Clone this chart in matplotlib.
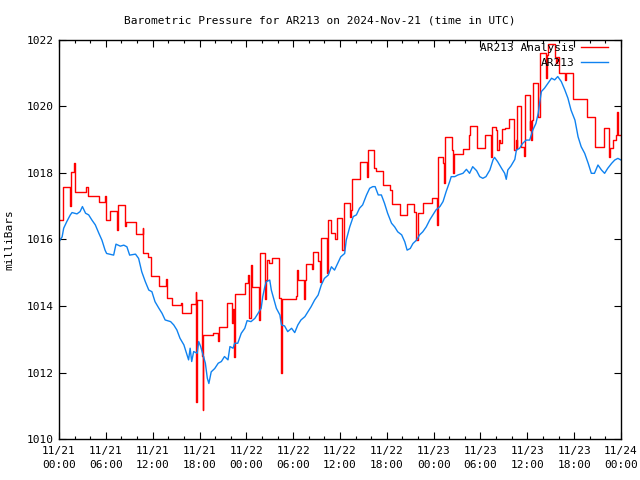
import matplotlib
matplotlib.use('Agg')
import matplotlib.pyplot as plt
import matplotlib.dates as mdates
import pandas as pd

# DATA (hours after 2024-11-21 00:00 UTC, pressure in mb)

start = pd.Timestamp('2024-11-21 00:00')

obs_hours = [0.0, 0.4, 0.6, 1.0, 1.45, 1.67, 2.3, 2.7, 3.0, 3.4, 3.8, 4.2, 4.65,
             5.1, 5.5, 5.9, 6.1, 7.0, 7.3, 7.85, 8.3, 8.7, 9.05, 9.8, 10.2, 10.6,
             11.06, 11.5, 11.9, 12.3, 12.8, 13.2, 13.6, 14.3, 14.7, 15.1, 15.5,
             16.0, 16.4, 16.6, 16.8, 17.0, 17.25, 17.7, 17.9, 18.15, 18.45, 18.75,
             19.0, 19.2, 19.5, 19.95, 20.4, 20.8, 21.2, 21.65, 21.9, 22.3, 22.5,
             22.9, 23.35, 23.8, 24.1, 24.6, 25.1, 25.5, 25.9, 26.1, 26.35, 26.55,
             27.0, 27.2, 27.55, 27.85, 28.3, 28.5, 28.9, 29.3, 29.8, 30.2, 30.6,
             31.0, 31.5, 31.9, 32.3, 32.75, 33.2, 33.6, 34.0, 34.5, 34.9, 35.3,
             35.7, 36.1, 36.6, 36.8, 37.25, 37.7, 38.1, 38.5, 38.9, 39.4, 39.8,
             40.2, 40.5, 40.9, 41.3, 41.7, 42.1, 42.6, 43.0, 43.4, 43.9, 44.3,
             44.6, 45.0, 45.35, 45.8, 46.2, 46.6, 47.05, 47.5, 47.9, 48.3, 48.8,
             49.2, 49.6, 50.05, 50.25, 50.7, 51.1, 51.75, 52.2, 52.6, 53.0, 53.5,
             53.9, 54.3, 54.7, 55.2, 55.6, 55.8, 56.2, 56.7, 57.1, 57.3, 57.5,
             57.9, 58.4, 58.6, 59.0, 59.4, 59.85, 60.3, 60.7, 61.1, 61.4, 61.6,
             61.8, 62.2, 62.65, 63.1, 63.5, 63.9, 64.35, 64.8, 65.2, 65.6, 66.1,
             66.5, 66.9, 67.35, 67.8, 68.2, 68.6, 69.05, 69.5, 69.9, 70.3, 70.8,
             71.2, 71.6, 72.0]
obs_mb = [1015.93, 1016.08, 1016.34, 1016.54, 1016.74, 1016.81, 1016.77, 1016.84,
          1016.99, 1016.79, 1016.74, 1016.59, 1016.44, 1016.19, 1015.98, 1015.68,
          1015.58, 1015.53, 1015.86, 1015.80, 1015.83, 1015.78, 1015.53, 1015.56,
          1015.43, 1015.03, 1014.73, 1014.48, 1014.43, 1014.13, 1013.93, 1013.78,
          1013.58, 1013.53, 1013.43, 1013.28, 1013.03, 1012.83, 1012.53, 1012.38,
          1012.73, 1012.33, 1012.63, 1012.58, 1012.93, 1012.78, 1012.53, 1012.28,
          1011.83, 1011.67, 1012.02, 1012.12, 1012.28, 1012.33, 1012.48, 1012.38,
          1012.78, 1012.73, 1012.88, 1012.88, 1013.18, 1013.33, 1013.56, 1013.53,
          1013.63, 1013.78, 1013.93, 1014.28, 1014.56, 1014.73, 1014.78, 1014.48,
          1014.18, 1013.93, 1013.73, 1013.43, 1013.40, 1013.23, 1013.33, 1013.20,
          1013.43, 1013.58, 1013.68, 1013.83, 1013.98, 1014.18, 1014.33, 1014.63,
          1014.83, 1014.93, 1015.18, 1015.08, 1015.28, 1015.48, 1015.58, 1015.98,
          1016.38, 1016.69, 1016.74, 1016.94, 1017.04, 1017.34, 1017.54, 1017.59,
          1017.59, 1017.34, 1017.34, 1017.09, 1016.79, 1016.49, 1016.38, 1016.23,
          1016.14, 1015.93, 1015.68, 1015.73, 1015.88, 1015.98, 1016.14, 1016.23,
          1016.38, 1016.59, 1016.74, 1016.89, 1016.99, 1017.14, 1017.44, 1017.74,
          1017.89, 1017.89, 1017.94, 1017.99, 1018.11, 1017.99, 1018.19, 1018.07,
          1017.89, 1017.84, 1017.89, 1018.09, 1018.39, 1018.47, 1018.34, 1018.14,
          1017.99, 1017.81, 1018.09, 1018.21, 1018.41, 1018.69, 1018.74, 1018.89,
          1018.99, 1018.99, 1019.29, 1019.49, 1019.80, 1020.14, 1020.45, 1020.55,
          1020.70, 1020.85, 1020.80, 1020.90, 1020.75, 1020.50, 1020.25, 1019.89,
          1019.59, 1019.09, 1018.79, 1018.59, 1018.29, 1017.99, 1017.99, 1018.24,
          1018.09, 1017.99, 1018.14, 1018.29, 1018.39, 1018.44, 1018.39]

ana_hours = [0.0, 0.5, 1.37, 1.5, 1.9, 2.05, 3.5, 3.7, 5.1, 5.95, 6.05, 6.5, 7.45,
             7.6, 8.4, 8.5, 8.6, 9.9, 10.7, 10.8, 11.4, 11.8, 12.8, 13.7, 13.85,
             14.5, 15.6, 15.7, 16.9, 17.5, 17.6, 17.7, 18.35, 18.4, 18.5, 19.7,
             20.35, 20.5, 21.55, 22.1, 22.25, 22.4, 22.55, 23.85, 24.2, 24.35,
             24.55, 24.75, 25.6, 25.75, 26.4, 26.5, 26.6, 26.9, 27.3, 28.15, 28.5,
             28.6, 30.4, 30.5, 30.6, 31.4, 31.5, 31.6, 32.35, 32.5, 33.2, 33.45,
             33.55, 34.35, 34.45, 34.9, 35.3, 35.6, 36.3, 36.55, 37.25, 37.4, 37.6,
             38.55, 39.45, 39.6, 40.3, 40.6, 41.55, 42.45, 42.65, 43.65, 44.55,
             45.5, 45.7, 45.8, 45.95, 46.6, 47.8, 48.45, 48.6, 49.15, 49.3, 49.5,
             50.3, 50.45, 50.65, 51.7, 52.5, 52.65, 53.55, 54.55, 55.3, 55.5,
             55.95, 56.15, 56.4, 56.55, 56.7, 57.1, 57.7, 58.3, 58.5, 58.65, 58.7,
             59.15, 59.6, 59.7, 60.3, 60.4, 60.5, 60.6, 60.7, 61.35, 61.6, 62.4,
             62.5, 62.7, 63.5, 63.7, 63.8, 64.1, 64.85, 65.0, 65.85, 67.6, 68.7,
             69.8, 70.45, 70.55, 71.0, 71.4, 71.5, 71.6, 72.0]
ana_mb = [1016.60, 1017.57, 1017.00, 1018.02, 1018.29, 1017.44, 1017.57, 1017.31,
          1017.14, 1017.30, 1016.59, 1016.87, 1016.30, 1017.03, 1016.54, 1016.40,
          1016.54, 1016.17, 1016.35, 1015.58, 1015.48, 1014.90, 1014.60, 1014.80,
          1014.23, 1014.03, 1014.10, 1013.78, 1014.05, 1014.41, 1011.12, 1014.18,
          1012.50, 1010.87, 1013.13, 1013.18, 1012.95, 1013.38, 1014.08, 1013.48,
          1013.90, 1012.48, 1014.35, 1014.68, 1014.93, 1013.63, 1015.23, 1014.58,
          1013.58, 1015.60, 1014.20, 1014.78, 1015.38, 1015.28, 1015.43, 1014.23,
          1012.00, 1014.20, 1014.30, 1015.08, 1014.78, 1014.20, 1014.78, 1015.26,
          1015.10, 1015.63, 1015.35, 1014.73, 1016.05, 1014.98, 1016.59, 1016.20,
          1016.00, 1016.64, 1015.68, 1017.09, 1016.69, 1016.90, 1017.81, 1018.34,
          1017.89, 1018.69, 1018.14, 1018.06, 1017.64, 1017.50, 1017.06, 1016.74,
          1017.06, 1016.84, 1016.54, 1015.98, 1016.79, 1017.09, 1017.24, 1016.44,
          1018.47, 1018.29, 1017.69, 1019.07, 1018.69, 1017.99, 1018.57, 1018.71,
          1019.14, 1019.42, 1018.74, 1019.14, 1018.49, 1019.37, 1019.29, 1018.70,
          1018.99, 1018.90, 1019.31, 1019.34, 1019.61, 1018.69, 1018.99, 1018.74,
          1020.00, 1018.79, 1018.50, 1020.35, 1019.29, 1019.55, 1019.00, 1019.59,
          1020.70, 1019.69, 1021.62, 1020.85, 1021.55, 1021.88, 1021.50, 1021.30,
          1021.50, 1021.00, 1020.80, 1021.00, 1020.22, 1019.69, 1018.77, 1019.34,
          1018.49, 1018.74, 1018.99, 1019.14, 1019.84, 1019.14, 1019.14]

obs_time = start + pd.to_timedelta(obs_hours, unit='h')
ana_time = start + pd.to_timedelta(ana_hours, unit='h')

# PLOT

plt.rcParams['font.family'] = ['DejaVu Sans Mono']
plt.rcParams['font.size'] = 8

fig = plt.figure(figsize=(6.4, 4.8), dpi=100)
ax = fig.add_axes([0.0922, 0.0854, 0.8781, 0.8313])

ax.plot(ana_time, ana_mb, color='#ff0000', lw=1.0, drawstyle='steps-post',
        label='AR213 Analysis')
ax.plot(obs_time, obs_mb, color='#0f82f0', lw=1.0, label='AR213')

ax.set_xlim(start, start + pd.Timedelta(hours=72))
ax.set_ylim(1010, 1022)
ax.set_yticks(range(1010, 1023, 2))

ax.xaxis.set_major_locator(mdates.HourLocator(byhour=range(0, 24, 6)))
ax.xaxis.set_minor_locator(mdates.HourLocator(byhour=range(0, 24, 2)))
ax.xaxis.set_major_formatter(mdates.DateFormatter('%m/%d\n%H:%M'))

ax.tick_params(which='both', direction='in', top=True, right=True, color='black')
ax.tick_params(which='major', length=5, width=0.8)
ax.tick_params(which='minor', length=2.5, width=0.8)
ax.tick_params(axis='x', which='major', pad=5)
ax.tick_params(axis='y', which='major', pad=4)
for lbl in ax.get_xticklabels():
    lbl.set_linespacing(1.5)

for sp in ax.spines.values():
    sp.set_linewidth(1.0)

# title is centred on the whole figure, like gnuplot does
fig.text(0.5, 0.958, 'Barometric Pressure for AR213 on 2024-Nov-21 (time in UTC)',
         ha='center', va='center', fontsize=8)
ax.set_ylabel('milliBars')
ax.yaxis.set_label_coords(-0.08, 0.5)

ax.legend(loc='upper right', bbox_to_anchor=(0.982, 1.0), frameon=False,
          markerfirst=False, borderaxespad=0, borderpad=0.3,
          handlelength=2.4, handletextpad=0.6, labelspacing=0.45)

fig.savefig('out.png', dpi=100)
